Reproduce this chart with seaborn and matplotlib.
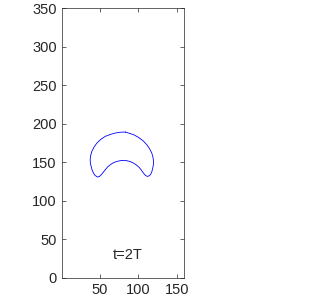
import matplotlib
matplotlib.use("Agg")

import pandas as pd
import matplotlib.pyplot as plt
import seaborn as sns

# contour of the drop at t=2T (closed loop)
xs = [83.2, 76.0, 70.1, 64.0, 57.0, 51.5, 46.1, 42.5, 39.5, 38.0, 37.3, 37.6,
      38.6, 39.8, 41.6, 43.5, 46.9, 49.3, 51.7, 54.2, 57.0, 60.0, 63.5, 67.5,
      72.3, 77.5, 83.2, 84.9, 89.5, 93.6, 97.5, 101.1, 104.0, 106.7, 109.5,
      112.0, 114.4, 116.3, 117.9, 118.9, 119.7, 119.9, 119.1, 117.6, 114.7,
      111.1, 106.2, 100.2, 94.0, 87.2, 83.2]
ys = [189.3, 189.0, 188.0, 186.3, 183.7, 180.0, 175.0, 170.0, 164.2, 159.0,
      153.3, 148.5, 144.7, 140.0, 136.0, 133.0, 130.8, 131.5, 133.8, 136.8,
      140.3, 143.8, 146.8, 149.3, 151.2, 152.2, 152.5, 152.0, 151.0, 149.0,
      146.5, 143.4, 139.8, 136.0, 132.8, 131.6, 132.5, 134.5, 138.5, 142.6,
      147.0, 151.2, 156.8, 162.0, 167.7, 172.8, 178.0, 182.4, 185.8, 188.0,
      189.3]
x_ticks = [50, 100, 150]
y_ticks = [0, 50, 100, 150, 200, 250, 300, 350]
label = "t=2T"

df = pd.DataFrame({"x": xs, "y": ys})

sns.set_style("ticks")
plt.rcParams["font.family"] = ["Liberation Sans", "DejaVu Sans"]

fig = plt.figure(figsize=(3.14, 3.04), dpi=100)
ax = fig.add_axes([0.196, 0.0865, 0.391, 0.886])

sns.lineplot(data=df, x="x", y="y", sort=False, estimator=None,
             color="#0000ff", linewidth=0.6, ax=ax)

ax.set_xlim(0, 160)
ax.set_ylim(0, 350)
ax.set_xticks(x_ticks)
ax.set_yticks(y_ticks)
ax.set_xlabel("")
ax.set_ylabel("")
ax.tick_params(direction="in", top=True, right=True, length=3, width=0.5,
               colors="#262626", labelsize=10.5, labelcolor="#262626")
for s in ax.spines.values():
    s.set_visible(True)
    s.set_color("#262626")
    s.set_linewidth(0.5)

ax.text(86.4, 30, label, ha="center", va="center", fontsize=10.5,
        color="#262626")

fig.savefig("out.png", dpi=100)
plt.close()
